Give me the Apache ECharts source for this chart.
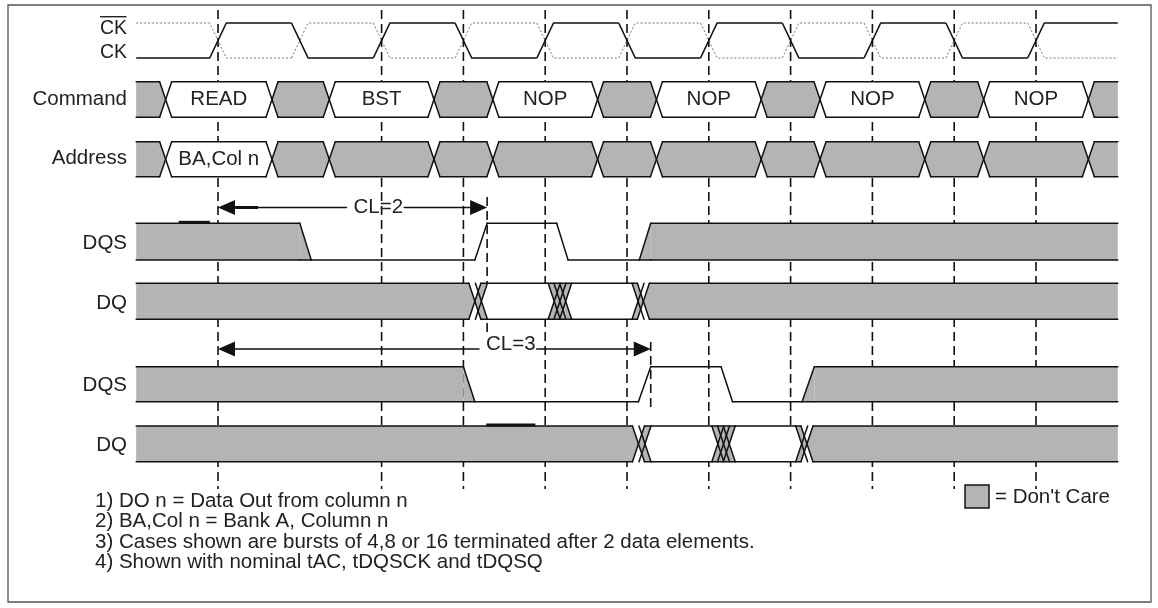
<!DOCTYPE html>
<html>
<head>
<meta charset="utf-8">
<script src="https://cdn.jsdelivr.net/npm/echarts@6/dist/echarts.min.js"></script>
<style>
html,body{margin:0;padding:0;background:#fff}
#c{width:1158px;height:608px}
</style>
</head>
<body>
<div id="c"></div>
<script>
// ---------------- DATA (time in half clock periods, clock edges at integers) ----------------
const timeRange = [-1, 11];
const ckEdges = [0, 1, 2, 3, 4, 5, 6, 7, 8, 9, 10];
const ckStartLevel = 0;      // CK starts low
const ckBarStartLevel = 1;   // CK# starts high
const refEdges = [0, 2, 3, 4, 5, 6, 7, 8, 9, 10];

const cmdCrossings = [[-0.64], [0.66], [1.36], [2.64], [3.36], [4.64], [5.36], [6.64], [7.36], [8.64], [9.36], [10.64]];
const cmdStates = [null, 'READ', null, 'BST', null, 'NOP', null, 'NOP', null, 'NOP', null, 'NOP', null];

const addrCrossings = [[-0.64], [0.66], [1.36], [2.64], [3.36], [4.64], [5.36], [6.64], [7.36], [8.64], [9.36], [10.64]];
const addrStates = [null, 'BA,Col n', null, null, null, null, null, null, null, null, null, null, null];

// DQS vertices [time, level(1=high,0=low)] and don't-care spans
const dqsCL2 = [[-1, 1], [1.0, 1], [1.14, 0], [3.14, 0], [3.29, 1], [4.14, 1], [4.28, 0], [5.15, 0], [5.29, 1], [11, 1]];
const dqsCL2DontCare = [[-1, 1.14], [5.15, 11]];
const dqCL2Crossings = [[3.14, 3.22], [4.11, 4.18, 4.25], [5.135, 5.2]];
const dqCL2States = [null, '', '', null];

const dqsCL3 = [[-1, 1], [3.0, 1], [3.14, 0], [5.14, 0], [5.29, 1], [6.15, 1], [6.29, 0], [7.14, 0], [7.29, 1], [11, 1]];
const dqsCL3DontCare = [[-1, 3.14], [7.14, 11]];
const dqCL3Crossings = [[5.14, 5.22], [6.11, 6.18, 6.25], [7.135, 7.2]];
const dqCL3States = [null, '', '', null];

const clSpans = [[0, 3.29], [0, 5.29]];
const clLabels = ['CL=2', 'CL=3'];
const clLabelAt = [1.96, 3.58];

const heavyMarkSpans = [[-0.48, -0.1], [3.28, 3.88], [0.21, 0.49]];

const signalLabels = ['Command', 'Address', 'DQS', 'DQ', 'DQS', 'DQ'];
const notes = [
  '1) DO n = Data Out from column n',
  '2) BA,Col n = Bank A, Column n',
  '3) Cases shown are bursts of 4,8 or 16 terminated after 2 data elements.',
  '4) Shown with nominal tAC, tDQSCK and tDQSQ'
];
const legendText = "= Don't Care";

// ---------------- LAYOUT / STYLE ----------------
const LAYOUT = {
  ck: {hi: 23, lo: 58},
  cmd: {top: 81.7, bot: 117.3},
  addr: {top: 141.7, bot: 176.7},
  cl2: {y: 207.5, textY: 207.5, markTop: 197, markBot: 332},
  dqs1: {hi: 223.3, lo: 260},
  dq1: {top: 283.3, bot: 319.3},
  cl3: {y: 349, textY: 344, markTop: 342, markBot: 410},
  dqs2: {hi: 366.7, lo: 401.7},
  dq2: {top: 426, bot: 461.7},
  refTop: 10, refBot: 489
};
const signalLabelY = [99.7, 158.7, 243, 303, 385, 445];
const clRows = ['cl2', 'cl3'];
const heavyMarkY = [222.3, 425, 207.5];
const FONT = '"Liberation Sans", Arial, Helvetica, sans-serif';
const INK = '#111', TXT = '#222', GRAY = '#b4b4b4';
const LW = 1.5, W = 6, RISE = 8.3;
const X0 = timeRange[0], X1 = timeRange[1];

function lineEl(x1, y1, x2, y2, o) {
  o = o || {};
  return {type: 'line', silent: true, z2: o.z2 == null ? 5 : o.z2,
    shape: {x1, y1, x2, y2},
    style: {stroke: o.stroke || INK, lineWidth: o.lw || LW, lineDash: o.dash || null, lineCap: o.cap || 'round'}};
}
function textEl(x, y, text, size, align) {
  return {type: 'text', x, y, z2: 10, silent: true,
    style: {text, fill: TXT, fontSize: size, fontFamily: FONT, align: align || 'center', verticalAlign: 'middle'}};
}
const measureCtx = document.createElement('canvas').getContext('2d');
function textWidth(t, size) { measureCtx.font = size + 'px ' + FONT; return measureCtx.measureText(t).width; }

function baseSeries(data, renderItem) {
  return {type: 'custom', coordinateSystem: 'cartesian2d', silent: true, animation: false, clip: false, data, renderItem};
}

// reference dashed clock lines
const refSeries = baseSeries(refEdges.map(e => [e]), function (params, api) {
  const x = api.coord([api.value(0), 0])[0];
  return lineEl(x, api.coord([0, LAYOUT.refTop])[1], x, api.coord([0, LAYOUT.refBot])[1], {z2: 0, dash: [9, 5], lw: 1.6, cap: 'butt'});
});

function clockSeries(startLevel, stroke, dash, lw) {
  return baseSeries(ckEdges.map((e, i) => [e, i]), function (params, api) {
    const i = params.dataIndex;
    const e = api.value(0);
    const from = (startLevel + i) % 2, to = 1 - from;
    const y = lv => api.coord([X0, lv ? LAYOUT.ck.hi : LAYOUT.ck.lo])[1];
    const xe = api.coord([e, 0])[0];
    const next = i < ckEdges.length - 1 ? api.coord([ckEdges[i + 1], 0])[0] - RISE : api.coord([X1, 0])[0];
    const pts = [];
    if (i === 0) pts.push([api.coord([X0, 0])[0], y(from)]);
    pts.push([xe - RISE, y(from)], [xe + RISE, y(to)], [next, y(to)]);
    return {type: 'polyline', silent: true, z2: 5, shape: {points: pts},
      style: {stroke, lineWidth: lw, lineDash: dash, fill: null, lineJoin: 'round'}};
  });
}

function busSeries(rowKey, crossings, states) {
  const row = LAYOUT[rowKey];
  const data = states.map((s, i) => [
    i === 0 ? X0 : crossings[i - 1][crossings[i - 1].length - 1],
    i === states.length - 1 ? X1 : crossings[i][0],
    i
  ]);
  return baseSeries(data, function (params, api) {
    const i = params.dataIndex;
    const xL = api.coord([api.value(0), 0])[0];
    const xR = api.coord([api.value(1), 0])[0];
    const yT = api.coord([X0, row.top])[1], yB = api.coord([X0, row.bot])[1], yM = (yT + yB) / 2;
    const openL = i === 0, openR = i === states.length - 1;
    const state = states[i];
    const pts = [];
    if (openL) pts.push([xL, yT]); else pts.push([xL, yM], [xL + W, yT]);
    if (openR) pts.push([xR, yT], [xR, yB]); else pts.push([xR - W, yT], [xR, yM], [xR - W, yB]);
    if (openL) pts.push([xL, yB]); else pts.push([xL + W, yB]);
    const a = openL ? xL : xL + W, b = openR ? xR : xR - W;
    const children = [
      {type: 'polygon', silent: true, z2: 1, shape: {points: pts}, style: {fill: state === null ? GRAY : '#fff'}},
      lineEl(a, yT, b, yT), lineEl(a, yB, b, yB)
    ];
    if (state) children.push(textEl((xL + xR) / 2, yM, state, 20.5));
    if (i < crossings.length) {
      const cs = crossings[i].map(t => api.coord([t, 0])[0]);
      cs.forEach(c => { children.push(lineEl(c - W, yT, c + W, yB), lineEl(c - W, yB, c + W, yT)); });
      if (cs.length > 1) {
        const c0 = cs[0], cN = cs[cs.length - 1];
        const left = states[i], right = states[i + 1];
        if (right !== null) {
          children.push({type: 'polygon', silent: true, z2: 2,
            shape: {points: [[c0, yM], [c0 + W, yT], [cN + W, yT], [cN, yM], [cN + W, yB], [c0 + W, yB]]},
            style: {fill: GRAY}});
          children.push(lineEl(c0 + W, yT, cN + W, yT), lineEl(c0 + W, yB, cN + W, yB));
        }
        if (left !== null) {
          children.push({type: 'polygon', silent: true, z2: 2,
            shape: {points: [[c0 - W, yT], [cN - W, yT], [cN, yM], [cN - W, yB], [c0 - W, yB], [c0, yM]]},
            style: {fill: GRAY}});
          children.push(lineEl(c0 - W, yT, cN - W, yT), lineEl(c0 - W, yB, cN - W, yB));
        }
      }
    }
    return {type: 'group', children};
  });
}

function dqsSeries(rowKey, verts, dontCare) {
  const row = LAYOUT[rowKey];
  const data = verts.slice(0, -1).map((v, i) => [v[0], v[1], verts[i + 1][0], verts[i + 1][1]]);
  return baseSeries(data, function (params, api) {
    const t0 = api.value(0), l0 = api.value(1), t1 = api.value(2), l1 = api.value(3);
    const yOf = lv => api.coord([X0, lv ? row.hi : row.lo])[1];
    const p0 = [api.coord([t0, 0])[0], yOf(l0)], p1 = [api.coord([t1, 0])[0], yOf(l1)];
    const yLo = yOf(0);
    const children = [lineEl(p0[0], p0[1], p1[0], p1[1])];
    const inDC = dontCare.some(s => t0 >= s[0] - 1e-6 && t1 <= s[1] + 1e-6);
    if (inDC) {
      children.push({type: 'polygon', silent: true, z2: 1,
        shape: {points: [p0, p1, [p1[0], yLo], [p0[0], yLo]]}, style: {fill: GRAY}});
      children.push(lineEl(p0[0], yLo, p1[0], yLo));
    }
    return {type: 'group', children};
  });
}

const clSeries = baseSeries(clSpans.map((s, i) => [s[0], s[1], clLabelAt[i], i]), function (params, api) {
  const i = params.dataIndex;
  const row = LAYOUT[clRows[i]];
  const y = api.coord([X0, row.y])[1];
  const ty = api.coord([X0, row.textY])[1];
  const xf = api.coord([api.value(0), 0])[0], xt = api.coord([api.value(1), 0])[0];
  const xc = api.coord([api.value(2), 0])[0];
  const tw = textWidth(clLabels[i], 20.5);
  const HL = 17, HW = 7.5;
  return {type: 'group', children: [
    {type: 'polygon', silent: true, z2: 6, shape: {points: [[xf, y], [xf + HL, y - HW], [xf + HL, y + HW]]}, style: {fill: INK}},
    {type: 'polygon', silent: true, z2: 6, shape: {points: [[xt, y], [xt - HL, y - HW], [xt - HL, y + HW]]}, style: {fill: INK}},
    lineEl(xf + HL, y, xc - tw / 2 - 7, y, {lw: 1.3}),
    lineEl(xc + tw / 2 + 1, y, xt - HL, y, {lw: 1.3}),
    textEl(xc, ty, clLabels[i], 20.5),
    lineEl(xt, api.coord([0, row.markTop])[1], xt, api.coord([0, row.markBot])[1], {z2: 0, dash: [9, 5], lw: 1.6, cap: 'butt'})
  ]};
});

const heavySeries = baseSeries(heavyMarkSpans.map((s, i) => [s[0], s[1], heavyMarkY[i]]), function (params, api) {
  const a = api.coord([api.value(0), api.value(2)]);
  const b = api.coord([api.value(1), api.value(2)]);
  return lineEl(a[0], a[1], b[0], b[1], {lw: 3, cap: 'butt', z2: 7});
});

// ---------------- static graphic text ----------------
const graphics = [
  {type: 'rect', silent: true, z: 0, shape: {x: 8, y: 5, width: 1143, height: 597}, style: {fill: 'none', stroke: '#555', lineWidth: 1.3}},
  {type: 'text', x: 127, y: 28.5, style: {text: 'CK', fill: TXT, fontSize: 19.5, fontFamily: FONT, align: 'right', verticalAlign: 'middle'}},
  {type: 'line', shape: {x1: 100, y1: 16.7, x2: 126.5, y2: 16.7}, style: {stroke: TXT, lineWidth: 1.4}},
  {type: 'text', x: 127, y: 53, style: {text: 'CK', fill: TXT, fontSize: 19.5, fontFamily: FONT, align: 'right', verticalAlign: 'middle'}},
  {type: 'rect', shape: {x: 965, y: 485, width: 24, height: 23}, style: {fill: GRAY, stroke: INK, lineWidth: 1.5}},
  {type: 'text', x: 995, y: 497, style: {text: legendText, fill: TXT, fontSize: 20.5, fontFamily: FONT, align: 'left', verticalAlign: 'middle'}}
];
signalLabels.forEach((s, i) => graphics.push({type: 'text', x: 127, y: signalLabelY[i],
  style: {text: s, fill: TXT, fontSize: 20.5, fontFamily: FONT, align: 'right', verticalAlign: 'middle'}}));
notes.forEach((s, i) => graphics.push({type: 'text', x: 95, y: 501 + 20.5 * i,
  style: {text: s, fill: TXT, fontSize: 20.5, fontFamily: FONT, align: 'left', verticalAlign: 'middle'}}));

const chart = echarts.init(document.getElementById('c'), null, {renderer: 'canvas'});
chart.setOption({
  animation: false,
  backgroundColor: '#fff',
  grid: {left: 136.2, right: 40.2, top: 0, bottom: 0},
  xAxis: {type: 'value', min: X0, max: X1, show: false},
  yAxis: {type: 'value', min: 0, max: 608, inverse: true, show: false},
  graphic: {elements: graphics},
  series: [
    refSeries,
    clockSeries(ckBarStartLevel, '#777', [2, 2], 1),
    clockSeries(ckStartLevel, INK, null, 1.6),
    busSeries('cmd', cmdCrossings, cmdStates),
    busSeries('addr', addrCrossings, addrStates),
    dqsSeries('dqs1', dqsCL2, dqsCL2DontCare),
    busSeries('dq1', dqCL2Crossings, dqCL2States),
    dqsSeries('dqs2', dqsCL3, dqsCL3DontCare),
    busSeries('dq2', dqCL3Crossings, dqCL3States),
    clSeries,
    heavySeries
  ]
});
</script>
</body>
</html>
